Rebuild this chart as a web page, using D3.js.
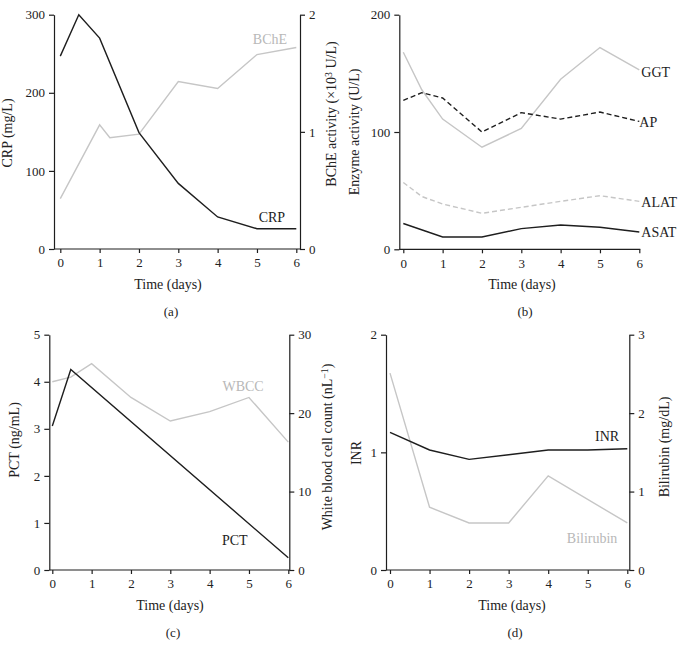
<!DOCTYPE html>
<html>
<head>
<meta charset="utf-8">
<script src="https://cdn.jsdelivr.net/npm/d3@7"></script>
<style>
  body { margin: 0; background: #fff; }
  svg text { font-family: "Times New Roman", "Liberation Serif", Times, serif; fill: #222; }
</style>
</head>
<body>
<svg id="chart" width="680" height="645"></svg>
<script>
// ---- data ----
// (a) CRP (mg/L) and BChE (x10^3 U/L)
var crpDays = [0, 0.47, 1, 2, 3, 4, 5, 6];
var crpVals = [247, 300, 270, 149, 84, 41, 26, 26];
var bcheDays = [0, 1, 1.26, 2, 3, 4, 5, 6];
var bcheVals = [0.43, 1.06, 0.95, 0.98, 1.43, 1.37, 1.66, 1.72];

// (b) enzymes (U/L)
var enzDays = [0, 0.47, 1, 2, 3, 4, 5, 6];
var ggtVals = [168, 136, 111, 87, 103, 145, 172, 153];
var apVals = [127, 133.5, 129, 100, 116.5, 111, 117, 109];
var alatVals = [57, 45, 38.6, 30.7, 35.8, 40.9, 45.7, 40.9];
var asatDays = [0, 1, 2, 3, 4, 5, 6];
var asatVals = [22, 10.5, 10.5, 17.6, 20.7, 18.8, 14.8];

// (c) PCT (ng/mL) and WBCC (nL^-1)
var pctDays = [0, 0.47, 6];
var pctVals = [3.06, 4.26, 0.26];
var wbccDays = [0, 0.47, 1, 2, 3, 4, 5, 6];
var wbccVals = [24.0, 24.6, 26.3, 22.0, 19.0, 20.2, 22.0, 16.3];

// (d) INR and bilirubin (mg/dL)
var inrDays = [0, 1, 2, 3, 4, 5, 6];
var inrVals = [1.17, 1.02, 0.94, 0.98, 1.02, 1.02, 1.03];
var biliDays = [0, 1, 2, 3, 4, 6];
var biliVals = [2.51, 0.8, 0.6, 0.6, 1.2, 0.6];

var dayTicks = [0, 1, 2, 3, 4, 5, 6];

var BLACK = "#1e1e1e", GRAY = "#c6c6c6";

var svg = d3.select("#chart");

function pairs(xs, ys) {
  return xs.map(function(d, i) { return [d, ys[i]]; });
}

function drawPanel(p) {
  var g = svg.append("g");
  var x = d3.scaleLinear().domain([0, 6]).range([p.x0, p.x1]);
  var yL = d3.scaleLinear().domain(p.leftDomain).range([p.bottom, p.top]);
  var yR = p.rightDomain ? d3.scaleLinear().domain(p.rightDomain).range([p.bottom, p.top]) : null;
  var fmt = d3.format("d");

  // axes
  var ax = g.append("g").attr("transform", "translate(0," + p.bottom + ")")
    .call(d3.axisBottom(x).tickValues(dayTicks).tickSize(4).tickPadding(5).tickFormat(fmt));
  ax.select(".domain").remove();
  var right = p.rightX || p.x1 + 1;
  g.append("line").attr("x1", p.leftX).attr("x2", right)
    .attr("y1", p.bottom).attr("y2", p.bottom).attr("stroke", BLACK).attr("stroke-width", 1.2);

  g.append("g").attr("transform", "translate(" + p.leftX + ",0)")
    .call(d3.axisLeft(yL).tickValues(p.leftTicks).tickSize(5).tickPadding(4).tickSizeOuter(0).tickFormat(fmt));
  if (yR) {
    g.append("g").attr("transform", "translate(" + p.rightX + ",0)")
      .call(d3.axisRight(yR).tickValues(p.rightTicks).tickSize(5).tickPadding(4).tickSizeOuter(0).tickFormat(fmt));
  }
  g.selectAll(".tick text").attr("font-size", 13).attr("fill", "#222");
  g.selectAll(".tick line, .domain").attr("stroke", BLACK).attr("stroke-width", 1.2);

  // lines
  p.series.forEach(function(s) {
    var sc = s.right ? yR : yL;
    var line = d3.line().x(function(d) { return x(d[0]); }).y(function(d) { return sc(d[1]); });
    g.append("path").datum(pairs(s.days, s.vals))
      .attr("d", line).attr("fill", "none")
      .attr("stroke", s.color).attr("stroke-width", 1.4)
      .attr("stroke-dasharray", s.dash || null);
    var ls = s.labelRight ? yR : yL;
    g.append("text").attr("x", x(s.label[0])).attr("y", ls(s.label[1]))
      .attr("dy", "0.35em").attr("text-anchor", s.anchor || "middle")
      .attr("font-size", 14).style("fill", s.labelColor || "#222")
      .text(s.name);
  });

  // axis titles
  var lt = g.append("text").attr("transform", "translate(" + p.leftTitle[0] + "," + p.leftTitle[1] + ") rotate(-90)")
    .attr("text-anchor", "middle").attr("font-size", 14);
  p.leftText(lt);
  if (p.rightTitle) {
    var rt = g.append("text").attr("transform", "translate(" + p.rightTitle[0] + "," + p.rightTitle[1] + ") rotate(-90)")
      .attr("text-anchor", "middle").attr("font-size", 14);
    p.rightText(rt);
  }
  g.append("text").attr("x", p.timeX).attr("y", p.bottom + 40).attr("text-anchor", "middle")
    .attr("font-size", 14).text("Time (days)");
  g.append("text").attr("x", p.timeX + 3).attr("y", p.bottom + 67).attr("text-anchor", "middle")
    .attr("font-size", 13).text(p.tag);
}

function sup(t, base, s, after) {
  t.append("tspan").text(base);
  t.append("tspan").attr("dy", "-0.45em").attr("font-size", "0.7em").text(s);
  t.append("tspan").attr("dy", "0.32em").text(after);
}

var LABEL_GRAY = "#b8b8b8";

drawPanel({
  tag: "(a)", x0: 60.3, x1: 296.3, leftX: 54, rightX: 300, top: 14.7, bottom: 249,
  leftDomain: [0, 300], leftTicks: [0, 100, 200, 300],
  rightDomain: [0, 2], rightTicks: [0, 1, 2],
  leftTitle: [12, 133], rightTitle: [336, 114], timeX: 168,
  leftText: function(t) { t.text("CRP (mg/L)"); },
  rightText: function(t) { sup(t, "BChE activity (×10", "3", " U/L)"); },
  series: [
    { name: "BChE", days: bcheDays, vals: bcheVals, color: GRAY, right: true, label: [5.33, 1.79], labelRight: true, labelColor: LABEL_GRAY },
    { name: "CRP", days: crpDays, vals: crpVals, color: BLACK, label: [5.38, 41] }
  ]
});

drawPanel({
  tag: "(b)", x0: 403.3, x1: 639.3, leftX: 399.3, top: 14.7, bottom: 249.3,
  leftDomain: [0, 200], leftTicks: [0, 100, 200],
  leftTitle: [359, 132], timeX: 522,
  leftText: function(t) { t.text("Enzyme activity (U/L)"); },
  series: [
    { name: "GGT", days: enzDays, vals: ggtVals, color: GRAY, label: [6.05, 151], anchor: "start" },
    { name: "AP", days: enzDays, vals: apVals, color: BLACK, dash: "5,3", label: [6.0, 108.5], anchor: "start" },
    { name: "ALAT", days: enzDays, vals: alatVals, color: GRAY, dash: "5,3", label: [6.05, 40.3], anchor: "start" },
    { name: "ASAT", days: asatDays, vals: asatVals, color: BLACK, label: [6.05, 14.7], anchor: "start" }
  ]
});

drawPanel({
  tag: "(c)", x0: 52.3, x1: 288.3, leftX: 49.3, rightX: 289.3, top: 334.7, bottom: 570,
  leftDomain: [0, 5], leftTicks: [0, 1, 2, 3, 4, 5],
  rightDomain: [0, 30], rightTicks: [0, 10, 20, 30],
  leftTitle: [19, 440], rightTitle: [332, 447], timeX: 170,
  leftText: function(t) { t.text("PCT (ng/mL)"); },
  rightText: function(t) { sup(t, "White blood cell count (nL", "−1", ")"); },
  series: [
    { name: "WBCC", days: wbccDays, vals: wbccVals, color: GRAY, right: true, label: [4.85, 3.9], labelColor: LABEL_GRAY },
    { name: "PCT", days: pctDays, vals: pctVals, color: BLACK, label: [4.64, 0.64] }
  ]
});

drawPanel({
  tag: "(d)", x0: 390, x1: 627.3, leftX: 386, rightX: 629.3, top: 334.7, bottom: 570,
  leftDomain: [0, 2], leftTicks: [0, 1, 2],
  rightDomain: [0, 3], rightTicks: [0, 1, 2, 3],
  leftTitle: [361, 453], rightTitle: [669, 447], timeX: 512,
  leftText: function(t) { t.text("INR"); },
  rightText: function(t) { t.text("Bilirubin (mg/dL)"); },
  series: [
    { name: "Bilirubin", days: biliDays, vals: biliVals, color: GRAY, right: true, label: [5.11, 0.27], labelColor: LABEL_GRAY },
    { name: "INR", days: inrDays, vals: inrVals, color: BLACK, label: [5.49, 1.14] }
  ]
});
</script>
</body>
</html>
